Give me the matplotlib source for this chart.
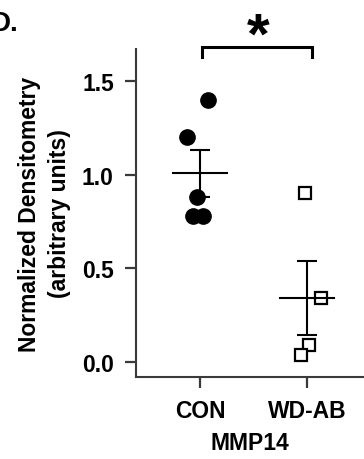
import numpy as np
import matplotlib.pyplot as plt

plt.rcParams['font.family'] = ['Liberation Sans', 'DejaVu Sans']
plt.rcParams['font.weight'] = 'bold'

groups = ['CON', 'WD-AB']
con_vals = [1.40, 1.20, 0.88, 0.78, 0.78]
con_jitter = [0.075, -0.12, -0.03, -0.065, 0.03]
wd_vals = [0.90, 0.34, 0.09, 0.04]
wd_jitter = [-0.02, 0.13, 0.02, -0.055]
yticks = [0.0, 0.5, 1.0, 1.5]

fig = plt.figure(figsize=(3.64, 4.6), dpi=100)
ax = fig.add_axes([136 / 364, 1 - 378 / 460, 1 - 136 / 364, (378 - 50) / 460])

spine_col = '#3a3a3a'

# points
ax.plot(0 + np.array(con_jitter), con_vals, 'o', color='black', ms=11, zorder=3)
ax.plot(1 + np.array(wd_jitter), wd_vals, 's', mfc='white', mec='black',
        mew=1.6, ms=9, zorder=3)

# mean +/- sem
for i, vals in enumerate([con_vals, wd_vals]):
    v = np.array(vals)
    m = v.mean()
    s = v.std(ddof=1) / np.sqrt(len(v))
    ax.plot([i - 0.25, i + 0.25], [m, m], color='black', lw=1.5, zorder=4)
    ax.errorbar(i, m, yerr=s, color='black', lw=1.5, capsize=7.5,
                capthick=1.5, zorder=4)

ax.set_xlim(-0.598, 1.533)
ax.set_ylim(-0.08, 1.671)
ax.set_xticks([0, 1])
ax.set_xticklabels(groups)
ax.set_yticks(yticks)
ax.set_yticklabels([f'{t:.1f}' for t in yticks])

for sp in ['top', 'right']:
    ax.spines[sp].set_visible(False)
for sp in ['left', 'bottom']:
    ax.spines[sp].set_linewidth(1.5)
    ax.spines[sp].set_color(spine_col)
ax.tick_params(axis='both', length=8, width=1.6, color=spine_col,
               labelsize=16.5)
ax.tick_params(axis='y', pad=8)
ax.tick_params(axis='x', pad=8)

ax.set_ylabel('Normalized Densitometry\n(arbitrary units)', fontsize=16.5,
              fontweight='bold', labelpad=8, linespacing=1.35)
ax.set_xlabel('MMP14', fontsize=16.5, fontweight='bold', labelpad=6)

# significance bracket
ax.plot([0.015, 0.015, 1.05, 1.05], [1.628, 1.682, 1.682, 1.628],
        color='black', lw=2.2, clip_on=False, solid_joinstyle='miter')
fig.text(258 / 364, 1 - 54 / 460, '*', fontsize=42, fontweight='bold',
         ha='center', va='baseline')

fig.text(18 / 364, 1 - 31 / 460, 'D.', fontsize=20, fontweight='bold',
         ha='right', va='baseline')

fig.savefig('out.png', dpi=100)
